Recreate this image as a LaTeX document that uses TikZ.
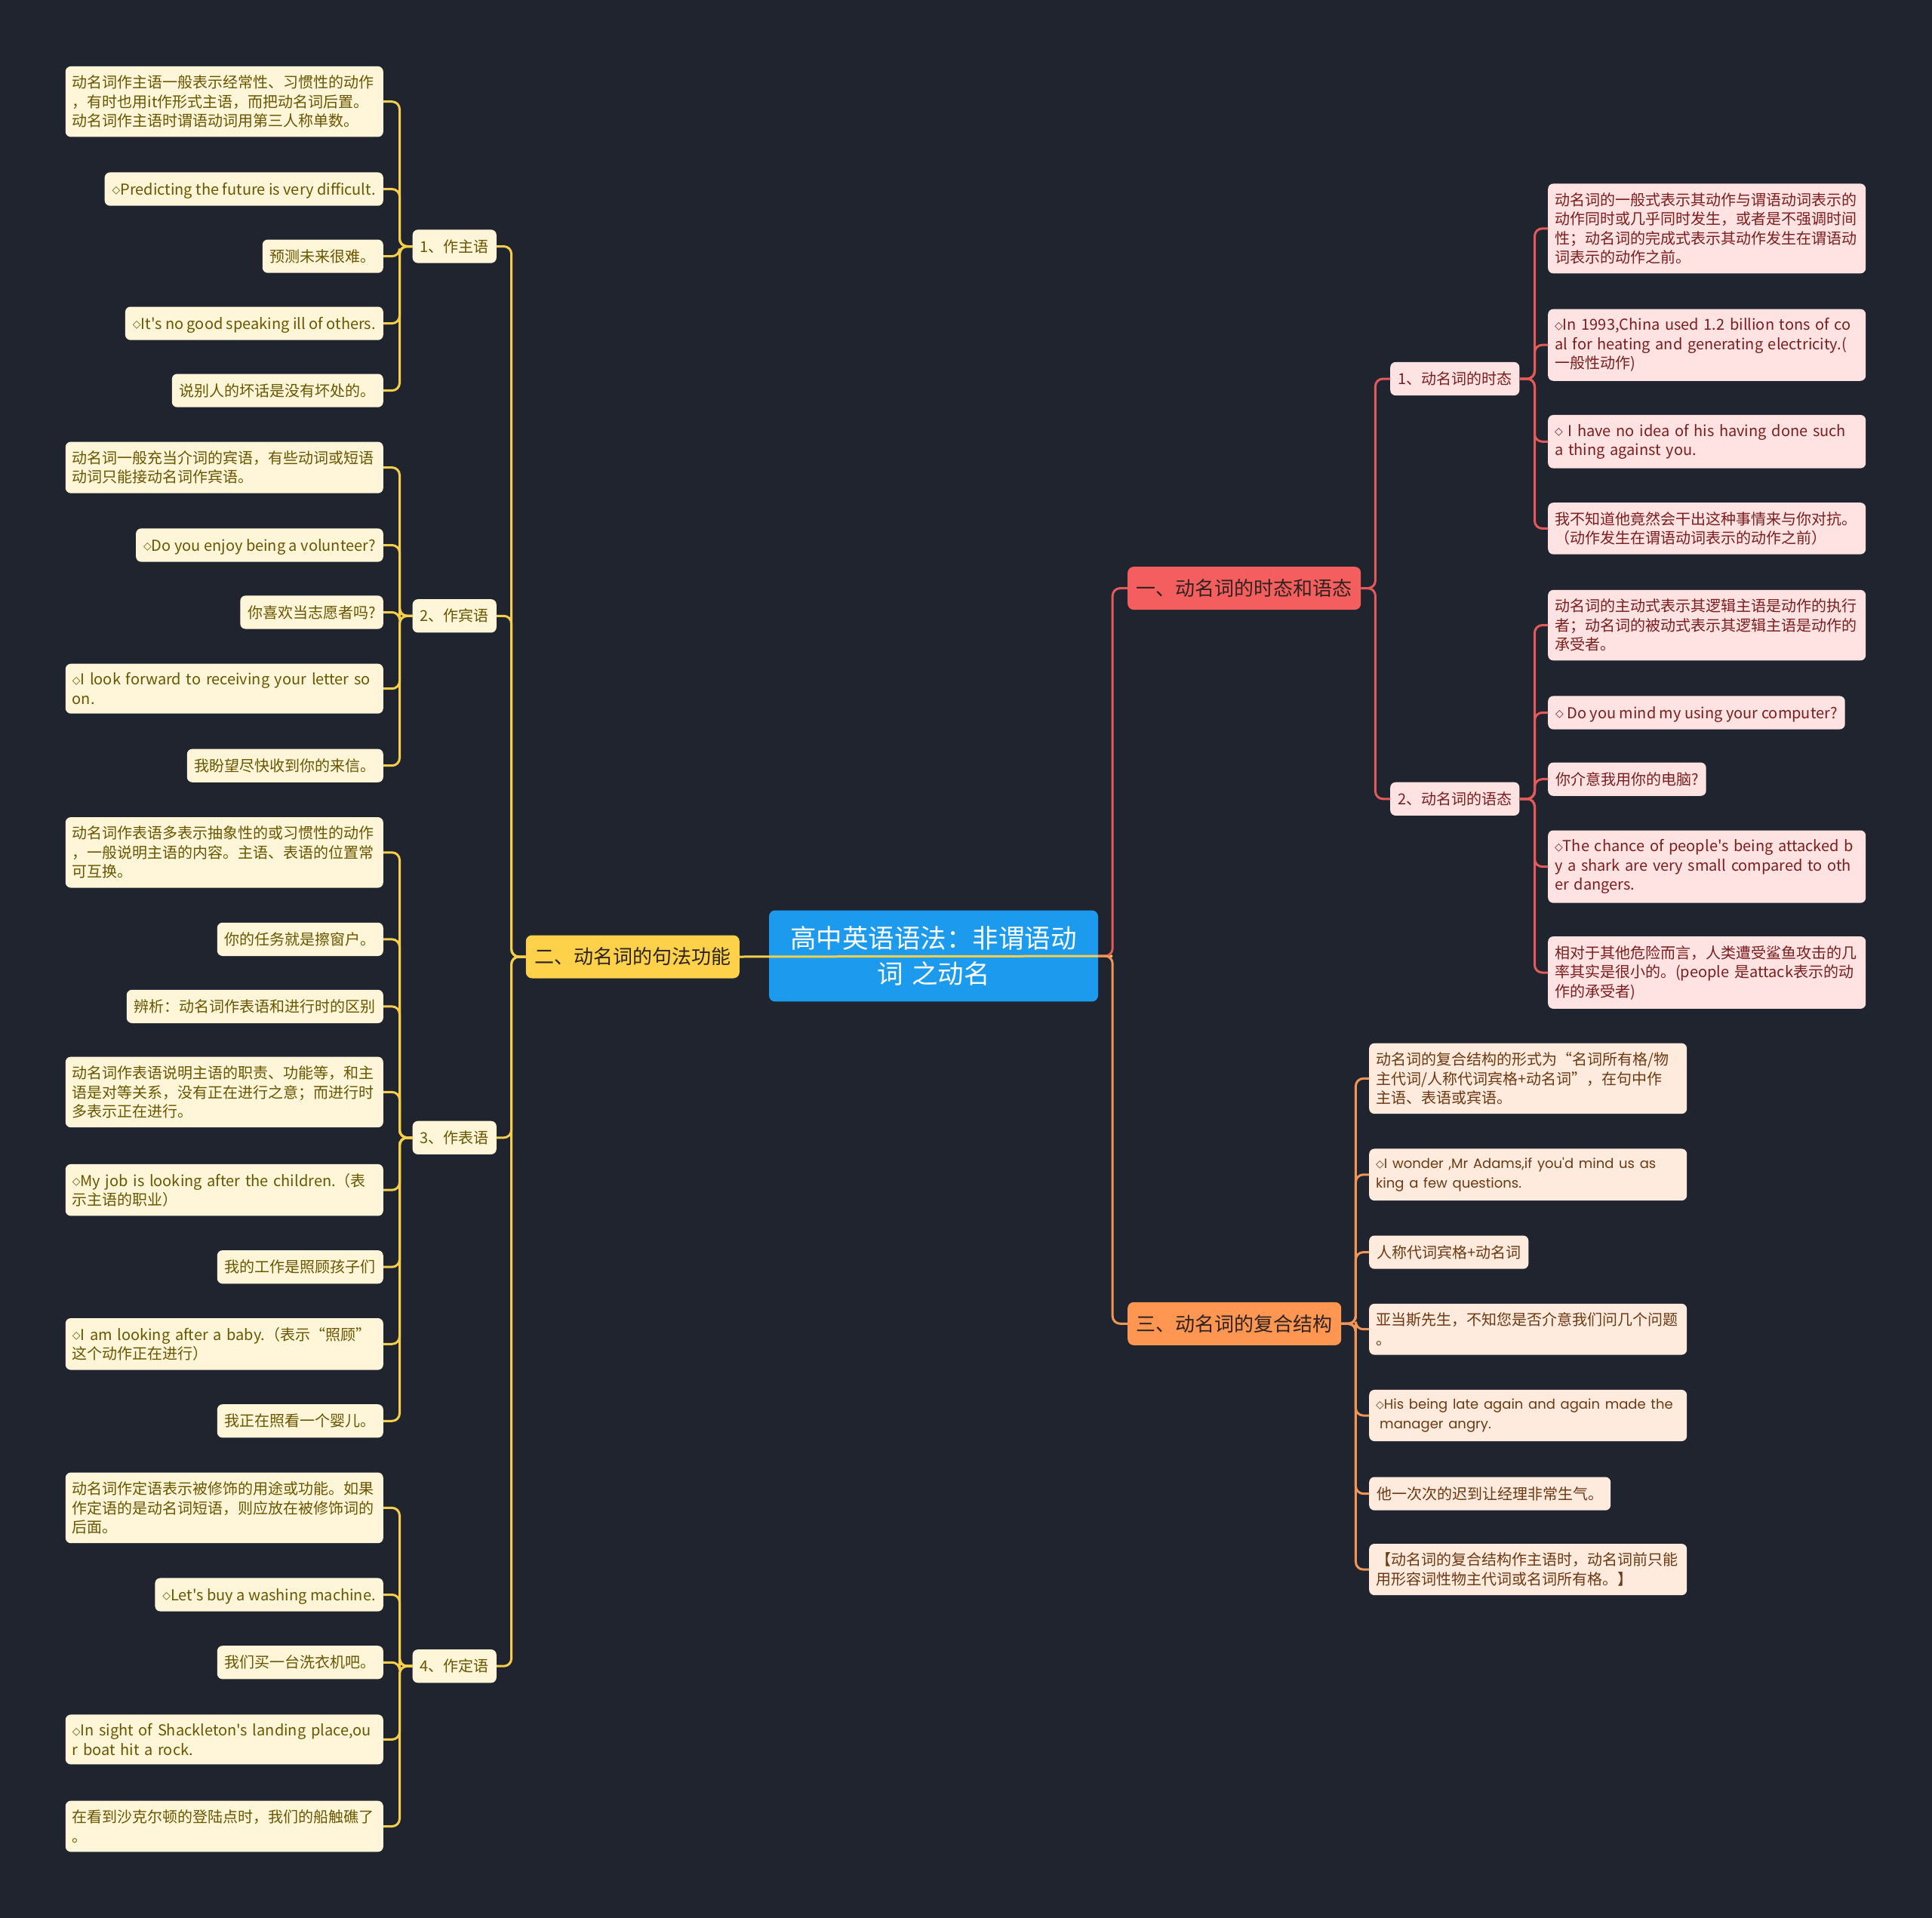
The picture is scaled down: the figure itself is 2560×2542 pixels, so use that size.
\documentclass[tikz,border=0pt]{standalone}
\usepackage{fontspec}
\setmainfont{Noto Sans CJK SC}[Ligatures=TeXOff]
\newfontfamily\symfont{DejaVu Sans}
\newfontfamily\geofont{Poppins}[Ligatures=TeXOff]
\usepackage{xcolor}
\usepackage{tikz}
\definecolor{bgdark}{HTML}{20242F}
\definecolor{rootblue}{HTML}{1B9AEE}
\definecolor{ymain}{HTML}{FDD24A}
\definecolor{yline}{HTML}{F5CF4B}
\definecolor{yleaf}{HTML}{FFF6D9}
\definecolor{ytext}{HTML}{6A5500}
\definecolor{rmain}{HTML}{F55E5E}
\definecolor{rline}{HTML}{E45A5B}
\definecolor{rleaf}{HTML}{FFE2E2}
\definecolor{rtext}{HTML}{7C1E1E}
\definecolor{omain}{HTML}{FF9652}
\definecolor{oline}{HTML}{F19656}
\definecolor{oleaf}{HTML}{FEEBDD}
\definecolor{otext}{HTML}{6E3812}
\definecolor{maintext}{HTML}{2E2320}
\newcommand{\dmd}{{\symfont\fontsize{14pt}{14pt}\selectfont\raisebox{1.5pt}{◇}}}
\newcommand{\geo}{\geofont\fontsize{18pt}{25.5pt}\selectfont}
\tikzset{
  leaf/.style={
    rectangle,
    rounded corners=7pt,
    inner xsep=10pt,
    inner ysep=12pt,
    align=left,
    text height=17.6pt,
    text depth=2.6pt,
    font=\fontsize{20pt}{25.5pt}\selectfont
  },
  wbox/.style={text width=403pt, inner xsep=9pt, text height=, text depth=},
  yleafbox/.style={leaf, fill=yleaf, text=ytext},
  rleafbox/.style={leaf, fill=rleaf, text=rtext},
  oleafbox/.style={leaf, fill=oleaf, text=otext},
  mainbox/.style={
    rectangle,
    rounded corners=8pt,
    inner xsep=11.5pt,
    inner ysep=15.5pt,
    text height=22.9pt,
    text depth=3.1pt,
    text=maintext,
    font=\fontsize{26pt}{30pt}\selectfont
  },
  rootbox/.style={
    rectangle,
    rounded corners=8pt,
    fill=rootblue,
    text=white,
    text width=380pt,
    align=center,
    inner xsep=28pt,
    inner ysep=21pt,
    font=\fontsize{34.5pt}{47pt}\selectfont
  },
  ylink/.style={draw=yline, line width=3pt, rounded corners=10pt},
  rlink/.style={draw=rline, line width=3pt, rounded corners=10pt},
  olink/.style={draw=oline, line width=3pt, rounded corners=10pt}
}

\begin{document}
\begin{tikzpicture}[x=1pt, y=-1pt]

\fill[bgdark] (0,0) rectangle (2560,2542);
\useasboundingbox (0,0) rectangle (2560,2542);

\node[rootbox] (root) at (1237,1267) {高中英语语法：非谓语动\\词 之动名};

% left side
\node[mainbox, fill=ymain, anchor=east] (syn) at (980,1268) {二、动名词的句法功能};

\node[yleafbox, anchor=east] (s1) at (658,326.5) {1、作主语};
\node[yleafbox, anchor=east] (s2) at (658,816.3) {2、作宾语};
\node[yleafbox, anchor=east] (s3) at (658,1507.8) {3、作表语};
\node[yleafbox, anchor=east] (s4) at (658,2208.2) {4、作定语};

\node[yleafbox, wbox, anchor=east] (s1a) at (508,134.7) {动名词作主语一般表示经常性、习惯性的动作\\，有时也用it作形式主语，而把动名词后置。\\动名词作主语时谓语动词用第三人称单数。};
\node[yleafbox, anchor=east] (s1b) at (508,250.6) {\dmd Predicting the future is very difficult.};
\node[yleafbox, anchor=east] (s1c) at (508,339.6) {预测未来很难。};
\node[yleafbox, anchor=east] (s1d) at (508,428.6) {\dmd It's no good speaking ill of others.};
\node[yleafbox, anchor=east] (s1e) at (508,517.6) {说别人的坏话是没有坏处的。};

\node[yleafbox, wbox, anchor=east] (s2a) at (508,619.6) {动名词一般充当介词的宾语，有些动词或短语\\动词只能接动名词作宾语。};
\node[yleafbox, anchor=east] (s2b) at (508,722.5) {\dmd Do you enjoy being a volunteer?};
\node[yleafbox, anchor=east] (s2c) at (508,811.5) {你喜欢当志愿者吗?};
\node[yleafbox, wbox, anchor=east] (s2d) at (508,912.7) {\dmd I look forward to receiving your letter so\\on.};
\node[yleafbox, anchor=east] (s2e) at (508,1014.7) {我盼望尽快收到你的来信。};

\node[yleafbox, wbox, anchor=east] (s3a) at (508,1129.8) {动名词作表语多表示抽象性的或习惯性的动作\\，一般说明主语的内容。主语、表语的位置常\\可互换。};
\node[yleafbox, anchor=east] (s3b) at (508,1244.9) {你的任务就是擦窗户。};
\node[yleafbox, anchor=east] (s3c) at (508,1333.9) {辨析：动名词作表语和进行时的区别};
\node[yleafbox, wbox, anchor=east] (s3d) at (508,1447.4) {动名词作表语说明主语的职责、功能等，和主\\语是对等关系，没有正在进行之意；而进行时\\多表示正在进行。};
\node[yleafbox, wbox, anchor=east] (s3e) at (508,1577.2) {\dmd My job is looking after the children.（表\\示主语的职业）};
\node[yleafbox, anchor=east] (s3f) at (508,1679.2) {我的工作是照顾孩子们};
\node[yleafbox, wbox, anchor=east] (s3g) at (508,1781.3) {\dmd I am looking after a baby.（表示“照顾”\\这个动作正在进行）};
\node[yleafbox, anchor=east] (s3h) at (508,1883.3) {我正在照看一个婴儿。};

\node[yleafbox, wbox, anchor=east] (s4a) at (508,1998.4) {动名词作定语表示被修饰的用途或功能。如果\\作定语的是动名词短语，则应放在被修饰词的\\后面。};
\node[yleafbox, anchor=east] (s4b) at (508,2113.5) {\dmd Let's buy a washing machine.};
\node[yleafbox, anchor=east] (s4c) at (508,2203.3) {我们买一台洗衣机吧。};
\node[yleafbox, wbox, anchor=east] (s4d) at (508,2305.4) {\dmd In sight of Shackleton's landing place,ou\\r boat hit a rock.};
\node[yleafbox, wbox, anchor=east] (s4e) at (508,2420.5) {在看到沙克尔顿的登陆点时，我们的船触礁了\\。};

% right side, upper branch
\node[mainbox, fill=rmain, anchor=west] (tense) at (1494,779.6) {一、动名词的时态和语态};

\node[rleafbox, anchor=west] (t1) at (1842,502) {1、动名词的时态};
\node[rleafbox, anchor=west] (t2) at (1842,1058.8) {2、动名词的语态};

\node[rleafbox, wbox, anchor=west] (t1a) at (2051,302.9) {动名词的一般式表示其动作与谓语动词表示的\\动作同时或几乎同时发生，或者是不强调时间\\性；动名词的完成式表示其动作发生在谓语动\\词表示的动作之前。};
\node[rleafbox, wbox, anchor=west] (t1b) at (2051,457.2) {\dmd In 1993,China used 1.2 billion tons of co\\al for heating and generating electricity.(\\一般性动作)};
\node[rleafbox, wbox, anchor=west] (t1c) at (2051,585.3) {\dmd{} I have no idea of his having done such\\a thing against you.};
\node[rleafbox, wbox, anchor=west] (t1d) at (2051,700.4) {我不知道他竟然会干出这种事情来与你对抗。\\（动作发生在谓语动词表示的动作之前）};

\node[rleafbox, wbox, anchor=west] (t2a) at (2051,828.6) {动名词的主动式表示其逻辑主语是动作的执行\\者；动名词的被动式表示其逻辑主语是动作的\\承受者。};
\node[rleafbox, anchor=west] (t2b) at (2051,944.5) {\dmd{} Do you mind my using your computer?};
\node[rleafbox, anchor=west] (t2c) at (2051,1032.7) {你介意我用你的电脑?};
\node[rleafbox, wbox, anchor=west] (t2d) at (2051,1148.6) {\dmd The chance of people's being attacked b\\y a shark are very small compared to oth\\er dangers.};
\node[rleafbox, wbox, anchor=west] (t2e) at (2051,1289) {相对于其他危险而言，人类遭受鲨鱼攻击的几\\率其实是很小的。(people 是attack表示的动\\作的承受者)};

% right side, lower branch
\node[mainbox, fill=omain, anchor=west] (comp) at (1494,1754.3) {三、动名词的复合结构};

\node[oleafbox, wbox, anchor=west] (c1) at (1814,1429.4) {动名词的复合结构的形式为“名词所有格/物\\主代词/人称代词宾格+动名词”，在句中作\\主语、表语或宾语。};
\node[oleafbox, wbox, anchor=west] (c2) at (1814,1556.8) {\dmd{\geo I wonder ,Mr Adams,if you'd mind us as\\king a few questions.}};
\node[oleafbox, anchor=west] (c3) at (1814,1659.6) {人称代词宾格+动名词};
\node[oleafbox, wbox, anchor=west] (c4) at (1814,1761.7) {亚当斯先生，不知您是否介意我们问几个问题\\。};
\node[oleafbox, wbox, anchor=west] (c5) at (1814,1876) {\dmd{\geo His being late again and again made the\\\hspace*{5pt}manager angry.}};
\node[oleafbox, anchor=west] (c6) at (1814,1979.6) {他一次次的迟到让经理非常生气。};
\node[oleafbox, wbox, anchor=west] (c7) at (1814,2080.1) {【动名词的复合结构作主语时，动名词前只能\\用形容词性物主代词或名词所有格。】};

% connectors
\draw[ylink] (syn.east) -- ([xshift=19pt]root.east);
\draw[rlink] (root.east) -- ++(19,0) |- (tense.west);
\draw[olink] (root.east) -- ++(19,0) |- (comp.west);

\draw[ylink] (syn.west) -- ++(-19,0) |- (s1.east);
\draw[ylink] (syn.west) -- ++(-19,0) |- (s2.east);
\draw[ylink] (syn.west) -- ++(-19,0) |- (s3.east);
\draw[ylink] (syn.west) -- ++(-19,0) |- (s4.east);

\draw[ylink] (s1.west) -- ++(-17,0) |- (s1a.east);
\draw[ylink] (s1.west) -- ++(-17,0) |- (s1b.east);
\draw[ylink] (s1.west) -- ++(-17,0) |- (s1c.east);
\draw[ylink] (s1.west) -- ++(-17,0) |- (s1d.east);
\draw[ylink] (s1.west) -- ++(-17,0) |- (s1e.east);

\draw[ylink] (s2.west) -- ++(-17,0) |- (s2a.east);
\draw[ylink] (s2.west) -- ++(-17,0) |- (s2b.east);
\draw[ylink] (s2.west) -- ++(-17,0) |- (s2c.east);
\draw[ylink] (s2.west) -- ++(-17,0) |- (s2d.east);
\draw[ylink] (s2.west) -- ++(-17,0) |- (s2e.east);

\draw[ylink] (s3.west) -- ++(-17,0) |- (s3a.east);
\draw[ylink] (s3.west) -- ++(-17,0) |- (s3b.east);
\draw[ylink] (s3.west) -- ++(-17,0) |- (s3c.east);
\draw[ylink] (s3.west) -- ++(-17,0) |- (s3d.east);
\draw[ylink] (s3.west) -- ++(-17,0) |- (s3e.east);
\draw[ylink] (s3.west) -- ++(-17,0) |- (s3f.east);
\draw[ylink] (s3.west) -- ++(-17,0) |- (s3g.east);
\draw[ylink] (s3.west) -- ++(-17,0) |- (s3h.east);

\draw[ylink] (s4.west) -- ++(-17,0) |- (s4a.east);
\draw[ylink] (s4.west) -- ++(-17,0) |- (s4b.east);
\draw[ylink] (s4.west) -- ++(-17,0) |- (s4c.east);
\draw[ylink] (s4.west) -- ++(-17,0) |- (s4d.east);
\draw[ylink] (s4.west) -- ++(-17,0) |- (s4e.east);

\draw[rlink] (tense.east) -- ++(19,0) |- (t1.west);
\draw[rlink] (tense.east) -- ++(19,0) |- (t2.west);

\draw[rlink] (t1.east) -- ++(20,0) |- (t1a.west);
\draw[rlink] (t1.east) -- ++(20,0) |- (t1b.west);
\draw[rlink] (t1.east) -- ++(20,0) |- (t1c.west);
\draw[rlink] (t1.east) -- ++(20,0) |- (t1d.west);

\draw[rlink] (t2.east) -- ++(20,0) |- (t2a.west);
\draw[rlink] (t2.east) -- ++(20,0) |- (t2b.west);
\draw[rlink] (t2.east) -- ++(20,0) |- (t2c.west);
\draw[rlink] (t2.east) -- ++(20,0) |- (t2d.west);
\draw[rlink] (t2.east) -- ++(20,0) |- (t2e.west);

\draw[olink] (comp.east) -- ++(19,0) |- (c1.west);
\draw[olink] (comp.east) -- ++(19,0) |- (c2.west);
\draw[olink] (comp.east) -- ++(19,0) |- (c3.west);
\draw[olink] (comp.east) -- ++(19,0) |- (c4.west);
\draw[olink] (comp.east) -- ++(19,0) |- (c5.west);
\draw[olink] (comp.east) -- ++(19,0) |- (c6.west);
\draw[olink] (comp.east) -- ++(19,0) |- (c7.west);

\end{tikzpicture}
\end{document}
